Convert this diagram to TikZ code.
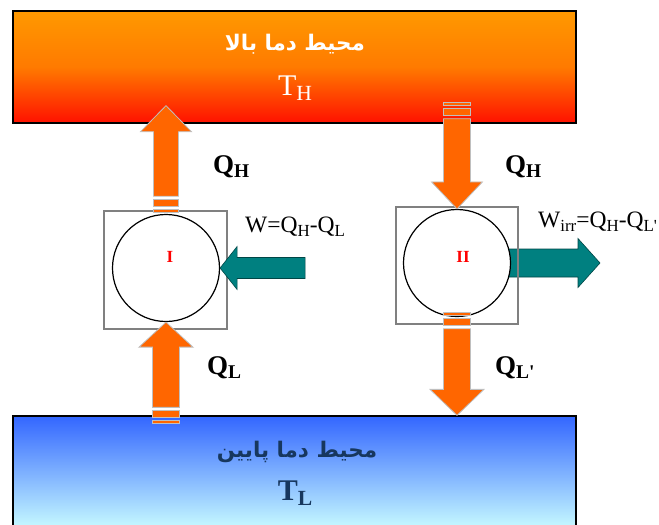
\documentclass[tikz,border=0pt]{standalone}
\usepackage{fontspec}
\usepackage{graphicx}
\setmainfont{Liberation Serif}
\newfontfamily\farsi[Script=Arabic]{DejaVu Sans}
\TeXXeTstate=1
\usepackage{tikz}
\usetikzlibrary{calc}

\definecolor{heatorange}{HTML}{FF6600}
\definecolor{heatedge}{HTML}{BFBFBF}
\definecolor{workteal}{HTML}{008080}
\definecolor{coldtext}{HTML}{17375E}

\newcommand{\sub}[1]{\raisebox{-0.18em}{\scalebox{0.72}{#1}}}
\newcommand{\fatarrow}[6][]{%
  \coordinate (fa-h) at ($(#3)!#6!(#2)$);
  \filldraw[#1] ($(#2)!#4!90:(#3)$) -- ($(fa-h)!#4!90:(#3)$) -- ($(fa-h)!#5!90:(#3)$) -- (#3)
    -- ($(fa-h)!#5!-90:(#3)$) -- ($(fa-h)!#4!-90:(#3)$) -- ($(#2)!#4!-90:(#3)$) -- cycle;}
\newcommand{\tailstripes}[3]{%
  \coordinate (ts-a) at ($(#1)!-3.5pt!(#2)$);
  \coordinate (ts-b) at ($(#1)!-10pt!(#2)$);
  \coordinate (ts-c) at ($(#1)!-13pt!(#2)$);
  \coordinate (ts-d) at ($(#1)!-16pt!(#2)$);
  \filldraw[heat] ($(ts-a)!#3!90:(#2)$) -- ($(ts-b)!#3!90:(#2)$) -- ($(ts-b)!#3!-90:(#2)$) -- ($(ts-a)!#3!-90:(#2)$) -- cycle;
  \filldraw[heat] ($(ts-c)!#3!90:(#2)$) -- ($(ts-d)!#3!90:(#2)$) -- ($(ts-d)!#3!-90:(#2)$) -- ($(ts-c)!#3!-90:(#2)$) -- cycle;}

\begin{document}
\begin{tikzpicture}[x=1pt, y=-1pt,
  reservoir/.style={draw=black, line width=1.3pt, minimum width=563pt, minimum height=112pt, inner sep=0pt},
  enginebox/.style={draw=gray, line width=1.6pt, inner sep=0pt},
  enginecircle/.style={circle, draw=black, fill=white, line width=1.2pt, minimum size=107pt, inner sep=0pt},
  heat/.style={fill=heatorange, draw=heatedge, line width=0.8pt},
  work/.style={fill=workteal, draw=workteal!55!black, line width=0.6pt},
  qlabel/.style={font=\bfseries\fontsize{27}{30}\selectfont, anchor=base west, inner sep=0pt},
  wlabel/.style={font=\fontsize{23.5}{26}\selectfont, anchor=base west, inner sep=0pt},
  farsilabel/.style={font=\farsi\bfseries\fontsize{21.5}{24}\selectfont},
  enginelabel/.style={text=red, font=\bfseries\fontsize{17}{20}\selectfont, inner sep=0pt}]
\useasboundingbox (0,0) rectangle (659,525);

\node[reservoir, top color={rgb,255:red,255;green,153;blue,0}, bottom color={rgb,255:red,255;green,17;blue,0},
  middle color={rgb,255:red,255;green,122;blue,0}] (hot) at (294.5,67) {};
\node[farsilabel, text=white] (hotname) at (295,44) {\beginR محیط دما بالا\endR};
\node[text=white, font=\fontsize{30}{34}\selectfont] (hotT) at (295,88) {T\sub{H}};

\node[reservoir, minimum height=116pt, top color={rgb,255:red,51;green,102;blue,255},
  bottom color={rgb,255:red,204;green,255;blue,255}] (cold) at (294.5,474) {};
\node[farsilabel, text=coldtext] (coldname) at (297,452) {\beginR محیط دما پایین\endR};
\node[text=coldtext, font=\bfseries\fontsize{30}{34}\selectfont] (coldT) at (295,493) {T\sub{L}};

\coordinate (cII) at (457,263);
\coordinate (wII-tip) at ($(cII)+(143,0)$);
\fatarrow[work]{cII}{wII-tip}{14pt}{24.5pt}{22pt}

\node[enginebox, minimum width=123pt, minimum height=118pt] (boxI) at (165.5,270) {};
\node[enginebox, minimum width=122pt, minimum height=117pt] (boxII) at (457,265.5) {};
\node[enginecircle] (engI) at (166,268) {};
\node[enginecircle] (engII) at (cII) {};
\node[enginelabel] (labI) at (170,257) {I};
\node[enginelabel] (labII) at (463,257) {II};

\coordinate (wI-tail) at ($(engI.east)+(85,0)$);
\fatarrow[work]{wI-tail}{engI.east}{10.5pt}{21.5pt}{17pt}

\coordinate (qhI-tail) at ($(boxI.north -| engI)+(0,-14)$);
\coordinate (qhI-tip) at ($(hot.south -| engI)+(0,-18)$);
\fatarrow[heat]{qhI-tail}{qhI-tip}{12.5pt}{25.5pt}{26pt}
\tailstripes{qhI-tail}{qhI-tip}{12.5pt}

\coordinate (qhII-tail) at ($(hot.south -| engII)+(0,-5)$);
\fatarrow[heat]{qhII-tail}{engII.north}{13.5pt}{25.5pt}{27pt}
\tailstripes{qhII-tail}{engII.north}{13.5pt}

\coordinate (qlI-tail) at ($(cold.north -| engI)+(0,-8)$);
\fatarrow[heat]{qlI-tail}{engI.south}{13.5pt}{27pt}{25pt}
\tailstripes{qlI-tail}{engI.south}{13.5pt}

\coordinate (qlII-tail) at ($(boxII.south -| engII)+(0,4)$);
\coordinate (qlII-tip) at (cold.north -| engII);
\fatarrow[heat]{qlII-tail}{qlII-tip}{13.5pt}{27pt}{26pt}
\tailstripes{qlII-tail}{qlII-tip}{13.5pt}

\node[qlabel] (qhIlab) at (213,173) {Q\sub{H}};
\node[qlabel] (qhIIlab) at (505,173) {Q\sub{H}};
\node[qlabel] (qlIlab) at (207,374) {Q\sub{L}};
\node[qlabel] (qlIIlab) at (495,374) {Q\sub{L\textquotesingle}};
\node[wlabel] (wIlab) at (245,232) {W=Q\sub{H}-Q\sub{L}};
\node[wlabel] (wIIlab) at (538,227) {W\sub{irr}=Q\sub{H}-Q\sub{L\textquotesingle}};
\end{tikzpicture}
\end{document}
